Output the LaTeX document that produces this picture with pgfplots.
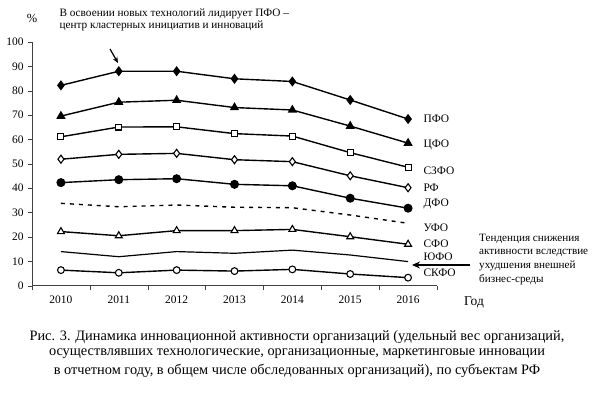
\documentclass[border=0pt]{standalone}
\usepackage{fontspec}
\setmainfont{Liberation Serif}
\usepackage{pgfplots}
\pgfplotsset{compat=1.18}
\usetikzlibrary{arrows.meta}
\begin{document}
\begin{tikzpicture}[x=1bp,y=1bp]
\path[use as bounding box] (0,0) rectangle (595,399);
\begin{axis}[
  at={(32bp,113.3bp)}, anchor=origin,
  scale only axis, width=405bp, height=243.7bp,
  xmin=2009.5, xmax=2016.5, ymin=0, ymax=100,
  axis lines=left, axis line style={black!75, line width=0.8pt, -},
  xtick={2010,...,2016},
  xticklabels={2010,2011,2012,2013,2014,2015,2016},
  major x tick style={draw=none},
  minor xtick={2009.5,2010.5,...,2016.5},
  minor x tick style={black!75},
  minor tick length=4bp,
  ytick={0,10,...,100},
  major tick length=4bp,
  y tick style={black!75},
  tick align=outside,
  ticklabel style={font=\fontsize{11.5}{13}\selectfont},
  xticklabel style={yshift=-3bp},
  yticklabel style={xshift=-1bp},
  /pgf/number format/assume math mode=true,
  /pgf/number format/1000 sep={},
  every axis plot/.append style={line width=1.4pt, black},
  clip=false,
]
% ПФО
\addplot[mark=diamond*, mark size=4, mark options={fill=black, solid}] coordinates {(2010,82.2) (2011,88.0) (2012,88.0) (2013,84.9) (2014,83.8) (2015,76.2) (2016,68.4)};
% ЦФО
\addplot[mark=triangle*, mark size=4, mark options={fill=black, solid}] coordinates {(2010,69.6) (2011,75.3) (2012,76.1) (2013,73.1) (2014,72.1) (2015,65.5) (2016,58.5)};
% СЗФО
\addplot[mark=square*, mark size=3, mark options={fill=white, line width=1.1pt, solid}] coordinates {(2010,61.1) (2011,65.1) (2012,65.2) (2013,62.4) (2014,61.4) (2015,54.6) (2016,48.6)};
% РФ
\addplot[mark=diamond*, mark size=4, mark options={fill=white, line width=1.1pt, solid}] coordinates {(2010,51.9) (2011,53.9) (2012,54.3) (2013,51.7) (2014,50.9) (2015,45.1) (2016,40.2)};
% ДФО
\addplot[mark=*, mark size=3.8, mark options={fill=black, solid}] coordinates {(2010,42.3) (2011,43.5) (2012,43.9) (2013,41.6) (2014,41.0) (2015,35.9) (2016,31.8)};
% УФО
\addplot[dashed, dash pattern=on 4pt off 5pt] coordinates {(2010,33.8) (2011,32.4) (2012,33.1) (2013,32.2) (2014,32.0) (2015,29.0) (2016,25.6)};
% СФО
\addplot[mark=triangle*, mark size=4, mark options={fill=white, line width=1.1pt, solid}] coordinates {(2010,22.2) (2011,20.5) (2012,22.6) (2013,22.6) (2014,23.1) (2015,20.1) (2016,17.0)};
% ЮФО
\addplot[line width=1.2pt] coordinates {(2010,14.0) (2011,11.9) (2012,14.0) (2013,13.3) (2014,14.6) (2015,12.6) (2016,9.9)};
% СКФО
\addplot[mark=*, mark size=3.4, mark options={fill=white, line width=1.1pt, solid}] coordinates {(2010,6.4) (2011,5.3) (2012,6.4) (2013,6.0) (2014,6.7) (2015,4.8) (2016,3.3)};
\end{axis}
\begin{scope}[font=\fontsize{11.3}{13}\selectfont]
\node[font=\fontsize{12.5}{14}\selectfont] at (32,381) {\%};
\node[anchor=west] at (56,385) {В освоении новых технологий лидирует ПФО –};
\node[anchor=west] at (56,373) {центр кластерных инициатив и инноваций};
\end{scope}
\draw[line width=1.2pt, -{Stealth[length=6pt,width=5pt]}] (110,350) -- (118,336);
\begin{scope}[font=\fontsize{11.5}{13}\selectfont]
\node[anchor=west] at (420,280) {ПФО};
\node[anchor=west] at (420,254) {ЦФО};
\node[anchor=west] at (420,228) {СЗФО};
\node[anchor=west] at (420,211) {РФ};
\node[anchor=west] at (420,195) {ДФО};
\node[anchor=west] at (420,171) {УФО};
\node[anchor=west] at (420,155) {СФО};
\node[anchor=west] at (420,142) {ЮФО};
\node[anchor=west] at (420,126) {СКФО};
\end{scope}
\begin{scope}[font=\fontsize{11.2}{13}\selectfont, inner sep=1bp]
\node[anchor=west] at (478,160) {Тенденция снижения};
\node[anchor=west] at (478,146) {активности вследствие};
\node[anchor=west] at (478,133) {ухудшения внешней};
\node[anchor=west] at (478,119) {бизнес-среды};
\end{scope}
\draw[line width=1.4pt, -{Stealth[length=8pt,width=7pt]}] (470,134) -- (412,134);
\node[font=\fontsize{13.5}{15}\selectfont] at (474,97) {Год};
\begin{scope}[font=\fontsize{14.4}{17}\selectfont]
\node at (297,62) {Рис. 3. Динамика инновационной активности организаций (удельный вес организаций,};
\node at (297,45) {осуществлявших технологические, организационные, маркетинговые инновации};
\node at (297,28) {в отчетном году, в общем числе обследованных организаций), по субъектам РФ};
\end{scope}
\end{tikzpicture}
\end{document}
